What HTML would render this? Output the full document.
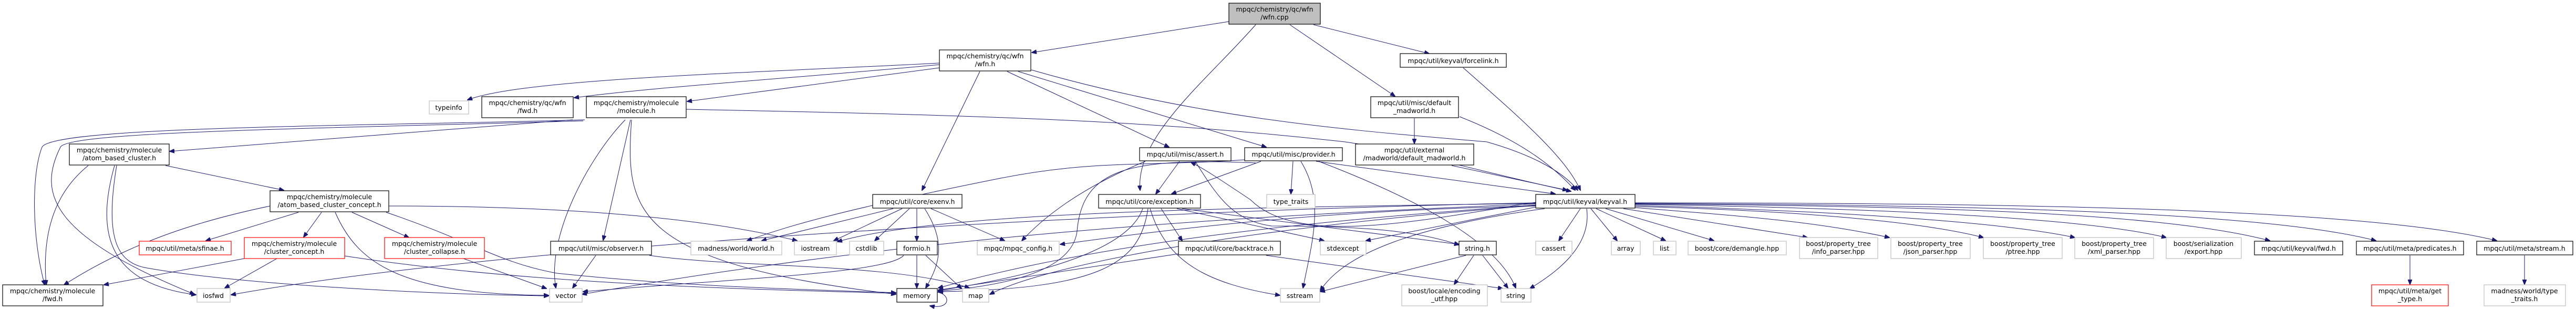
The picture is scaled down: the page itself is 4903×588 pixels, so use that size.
<!DOCTYPE html>
<html><head><meta charset="utf-8"><style>
html,body{margin:0;padding:0;background:#fff;}
svg{display:block;}
text{font-family:"DejaVu Sans","Liberation Sans",sans-serif;font-size:12.5px;fill:#000;text-anchor:middle;}
.b{fill:#fff;stroke:#000;stroke-width:1.2;}
.g{fill:#fff;stroke:#bfbfbf;stroke-width:1.2;}
.r{fill:#fff;stroke:#ff0000;stroke-width:1.2;}
.root{fill:#bfbfbf;stroke:#000;stroke-width:1.2;}
path{fill:none;stroke:#191970;stroke-width:1;marker-end:url(#a);}
</style></head><body>
<svg width="4903" height="588" viewBox="0 0 4903 588" xmlns="http://www.w3.org/2000/svg">
<defs><marker id="a" markerWidth="10" markerHeight="8" refX="9" refY="4" orient="auto" markerUnits="userSpaceOnUse"><polygon points="0,0 10,4 0,8" fill="#191970" stroke="#191970"/></marker></defs>

<path d="M2339,41 L1964,100"/>
<path d="M2390,47 C2300,150 2160,260 2170,362"/>
<path d="M2455,47 L2655,183"/>
<path d="M2500,47 L2720,102"/>

<path d="M1788,120 C1400,140 1000,150 890,190"/>
<path d="M1788,123 C1500,150 1250,165 1093,186"/>
<path d="M1788,129 L1308,193"/>
<path d="M1865,136 L1755,362"/>
<path d="M1917,136 L2225,280"/>
<path d="M1938,136 L2410,280"/>
<path d="M1963,133 C2300,230 2600,250 2830,270 C2900,290 2970,320 3003,362"/>

<path d="M1113,228 C700,240 100,240 80,280 C60,330 60,450 85,542"/>
<path d="M1110,230 C600,245 130,250 115,280 C70,370 100,450 370,560"/>
<path d="M1090,228 L323,288"/>
<path d="M1190,228 C1120,300 1040,450 1058,548"/>
<path d="M1200,228 L1148,457"/>
<path d="M1202,228 C1190,400 1200,500 1705,560"/>
<path d="M1306,208 C1900,220 2200,230 2560,270 C2700,290 2830,330 2990,364"/>

<path d="M315,315 L540,362"/>
<path d="M168,315 C100,370 80,450 88,542"/>
<path d="M218,315 C180,450 210,540 373,561"/>
<path d="M222,315 C200,450 220,500 280,510 C450,540 800,560 1044,563"/>
<path d="M514,392 C380,420 250,460 122,542"/>
<path d="M568,404 L392,458"/>
<path d="M612,404 L578,451"/>
<path d="M638,404 C680,500 760,560 1044,562"/>
<path d="M670,404 L778,452"/>
<path d="M735,404 C900,460 950,500 1060,520 C1300,545 1500,550 1705,557"/>
<path d="M740,392 C1000,392 1300,405 1517,458"/>

<path d="M465,492 L198,542"/>
<path d="M527,492 L428,548"/>
<path d="M656,487 C1000,540 1400,550 1705,558"/>
<path d="M882,492 L1040,549"/>
<path d="M1134,486 L1090,548"/>
<path d="M1236,486 C1400,510 1700,500 1845,548"/>

<path d="M1700,397 L1450,458"/>
<path d="M1717,397 L1587,458"/>
<path d="M1731,397 L1665,458"/>
<path d="M1745,397 L1745,458"/>
<path d="M1760,397 C1800,460 1790,500 1762,548"/>
<path d="M1772,397 L1912,458"/>
<path d="M1745,486 L1745,548"/>
<path d="M1762,486 L1830,549"/>
<path d="M1720,486 C1690,520 1400,530 1110,555"/>
<path d="M1784,556 C1810,560 1810,590 1770,582"/>

<path d="M2245,307 L2200,369"/>
<path d="M2180,307 C2050,360 1980,420 1945,458"/>
<path d="M2275,307 C2320,380 2350,420 2420,430 C2600,430 2700,440 2777,466"/>
<path d="M2923,385 C2700,420 2470,470 2380,380 C2320,340 2290,320 2267,309"/>

<path d="M2400,307 L2230,369"/>
<path d="M2420,300 C2200,320 2100,300 1900,340 C1600,400 1500,430 1422,458"/>
<path d="M2390,310 C2150,300 2060,320 2050,440 C2040,520 1900,545 1786,554"/>
<path d="M2461,307 L2457,369"/>
<path d="M2476,307 C2520,380 2500,450 2480,548"/>
<path d="M2505,307 L2960,369"/>
<path d="M2510,307 C2700,380 2850,460 2885,548"/>

<path d="M2175,397 C2150,470 2000,520 1786,553"/>
<path d="M2185,397 C2170,500 2100,550 1786,555"/>
<path d="M2189,397 C2220,500 2300,540 2436,562"/>
<path d="M2210,397 L2250,458"/>
<path d="M2240,397 L2520,458"/>
<path d="M2250,397 L2777,465"/>
<path d="M2243,483 L1786,552"/>
<path d="M2410,486 L2860,549"/>
<path d="M2805,486 L2768,541"/>
<path d="M2822,486 L2870,548"/>
<path d="M2790,486 L2513,555"/>

<path d="M2692,225 L2692,273"/>
<path d="M2778,222 C2900,270 2960,320 2998,362"/>
<path d="M2785,129 C2900,230 2980,300 3008,362"/>
<path d="M2763,315 L2983,362"/>

<path d="M3008,397 L2967,458"/>
<path d="M3028,397 L3078,458"/>
<path d="M3038,397 L3170,458"/>
<path d="M3056,397 L3262,458"/>
<path d="M3090,397 L3440,452"/>
<path d="M3110,395 C3300,410 3450,420 3596,452"/>
<path d="M3112,393 C3400,400 3650,420 3775,452"/>
<path d="M3112,391 C3450,400 3800,420 3949,452"/>
<path d="M3112,389 C3500,395 3950,410 4123,452"/>
<path d="M3112,388 C3600,392 4100,400 4320,458"/>
<path d="M3112,387 C3700,390 4300,400 4522,458"/>
<path d="M3112,386 C3800,386 4500,395 4752,458"/>
<path d="M2923,394 L2600,458"/>
<path d="M3020,397 C3030,470 2960,520 2912,549"/>
<path d="M2940,397 C2700,430 2560,480 2513,553"/>
<path d="M2923,390 C2500,420 2100,460 1786,548"/>
<path d="M2923,388 C2400,410 1800,440 1108,560"/>
<path d="M2923,391 C2400,430 2000,500 1884,560"/>
<path d="M2923,386 C2200,400 1000,460 440,561"/>
<path d="M2923,387 C2400,395 1800,400 1594,460"/>
<path d="M2923,392 C2500,400 2200,440 2018,465"/>
<path d="M4587,486 L4587,541"/>
<path d="M4805,486 L4805,541"/>

<rect class="root" x="2339" y="6" width="174" height="40"/>
<text x="2426" y="22">mpqc/chemistry/qc/wfn</text><text x="2426" y="37">/wfn.cpp</text>

<rect class="b" x="1788" y="95" width="174" height="40"/>
<text x="1875" y="111">mpqc/chemistry/qc/wfn</text><text x="1875" y="126">/wfn.h</text>
<rect class="b" x="2665" y="102" width="202" height="26"/>
<text x="2766" y="120">mpqc/util/keyval/forcelink.h</text>

<rect class="g" x="817" y="192" width="75" height="25"/><text x="854" y="209">typeinfo</text>
<rect class="b" x="917" y="184" width="174" height="40"/>
<text x="1004" y="200">mpqc/chemistry/qc/wfn</text><text x="1004" y="215">/fwd.h</text>
<rect class="b" x="1116" y="184" width="190" height="40"/>
<text x="1211" y="200">mpqc/chemistry/molecule</text><text x="1211" y="215">/molecule.h</text>
<rect class="b" x="2609" y="184" width="167" height="40"/>
<text x="2692" y="200">mpqc/util/misc/default</text><text x="2692" y="215">_madworld.h</text>

<rect class="b" x="132" y="274" width="190" height="40"/>
<text x="227" y="290">mpqc/chemistry/molecule</text><text x="227" y="305">/atom_based_cluster.h</text>
<rect class="b" x="2169" y="281" width="174" height="25"/><text x="2256" y="298">mpqc/util/misc/assert.h</text>
<rect class="b" x="2369" y="281" width="186" height="25"/><text x="2462" y="298">mpqc/util/misc/provider.h</text>
<rect class="b" x="2580" y="274" width="225" height="40"/>
<text x="2692" y="290">mpqc/util/external</text><text x="2692" y="305">/madworld/default_madworld.h</text>

<rect class="b" x="514" y="363" width="226" height="40"/>
<text x="627" y="379">mpqc/chemistry/molecule</text><text x="627" y="394">/atom_based_cluster_concept.h</text>
<rect class="b" x="1661" y="370" width="170" height="26"/><text x="1746" y="388">mpqc/util/core/exenv.h</text>
<rect class="b" x="2091" y="370" width="194" height="26"/><text x="2188" y="388">mpqc/util/core/exception.h</text>
<rect class="g" x="2411" y="370" width="92" height="26"/><text x="2457" y="388">type_traits</text>
<rect class="b" x="2923" y="370" width="189" height="26"/><text x="3017" y="388">mpqc/util/keyval/keyval.h</text>

<rect class="r" x="265" y="459" width="175" height="26"/><text x="352" y="477">mpqc/util/meta/sfinae.h</text>
<rect class="r" x="465" y="452" width="191" height="40"/>
<text x="560" y="468">mpqc/chemistry/molecule</text><text x="560" y="483">/cluster_concept.h</text>
<rect class="r" x="732" y="452" width="190" height="40"/>
<text x="827" y="468">mpqc/chemistry/molecule</text><text x="827" y="483">/cluster_collapse.h</text>
<rect class="b" x="1048" y="459" width="192" height="26"/><text x="1144" y="477">mpqc/util/misc/observer.h</text>
<rect class="g" x="1315" y="459" width="173" height="26"/><text x="1401" y="477">madness/world/world.h</text>
<rect class="g" x="1512" y="459" width="80" height="26"/><text x="1552" y="477">iostream</text>
<rect class="g" x="1617" y="459" width="65" height="26"/><text x="1649" y="477">cstdlib</text>
<rect class="b" x="1707" y="459" width="77" height="26"/><text x="1745" y="477">formio.h</text>
<rect class="g" x="1860" y="459" width="156" height="26"/><text x="1938" y="477">mpqc/mpqc_config.h</text>
<rect class="b" x="2243" y="459" width="194" height="26"/><text x="2340" y="477">mpqc/util/core/backtrace.h</text>
<rect class="g" x="2513" y="459" width="87" height="26"/><text x="2556" y="477">stdexcept</text>
<rect class="b" x="2777" y="459" width="71" height="26"/><text x="2812" y="477">string.h</text>
<rect class="g" x="2923" y="459" width="69" height="26"/><text x="2957" y="477">cassert</text>
<rect class="g" x="3067" y="459" width="55" height="26"/><text x="3094" y="477">array</text>
<rect class="g" x="3147" y="459" width="43" height="26"/><text x="3168" y="477">list</text>
<rect class="g" x="3213" y="459" width="187" height="26"/><text x="3306" y="477">boost/core/demangle.hpp</text>
<rect class="g" x="3425" y="452" width="149" height="40"/>
<text x="3499" y="468">boost/property_tree</text><text x="3499" y="483">/info_parser.hpp</text>
<rect class="g" x="3599" y="452" width="151" height="40"/>
<text x="3674" y="468">boost/property_tree</text><text x="3674" y="483">/json_parser.hpp</text>
<rect class="g" x="3775" y="452" width="150" height="40"/>
<text x="3850" y="468">boost/property_tree</text><text x="3850" y="483">/ptree.hpp</text>
<rect class="g" x="3949" y="452" width="150" height="40"/>
<text x="4024" y="468">boost/property_tree</text><text x="4024" y="483">/xml_parser.hpp</text>
<rect class="g" x="4123" y="452" width="143" height="40"/>
<text x="4194" y="468">boost/serialization</text><text x="4194" y="483">/export.hpp</text>
<rect class="b" x="4291" y="459" width="168" height="26"/><text x="4375" y="477">mpqc/util/keyval/fwd.h</text>
<rect class="b" x="4485" y="459" width="204" height="26"/><text x="4587" y="477">mpqc/util/meta/predicates.h</text>
<rect class="b" x="4714" y="459" width="183" height="26"/><text x="4805" y="477">mpqc/util/meta/stream.h</text>

<rect class="b" x="5" y="542" width="191" height="40"/>
<text x="100" y="558">mpqc/chemistry/molecule</text><text x="100" y="573">/fwd.h</text>
<rect class="g" x="375" y="549" width="63" height="26"/><text x="406" y="567">iosfwd</text>
<rect class="g" x="1046" y="549" width="62" height="26"/><text x="1077" y="567">vector</text>
<rect class="b" x="1707" y="549" width="77" height="26"/><text x="1745" y="567">memory</text>
<rect class="g" x="1832" y="549" width="50" height="26"/><text x="1857" y="567">map</text>
<rect class="g" x="2437" y="549" width="75" height="26"/><text x="2474" y="567">sstream</text>
<rect class="g" x="2668" y="542" width="163" height="40"/>
<text x="2749" y="558">boost/locale/encoding</text><text x="2749" y="573">_utf.hpp</text>
<rect class="g" x="2857" y="549" width="57" height="26"/><text x="2885" y="567">string</text>
<rect class="r" x="4514" y="542" width="146" height="40"/>
<text x="4587" y="558">mpqc/util/meta/get</text><text x="4587" y="573">_type.h</text>
<rect class="g" x="4728" y="542" width="155" height="40"/>
<text x="4805" y="558">madness/world/type</text><text x="4805" y="573">_traits.h</text>
</svg>
</body></html>
